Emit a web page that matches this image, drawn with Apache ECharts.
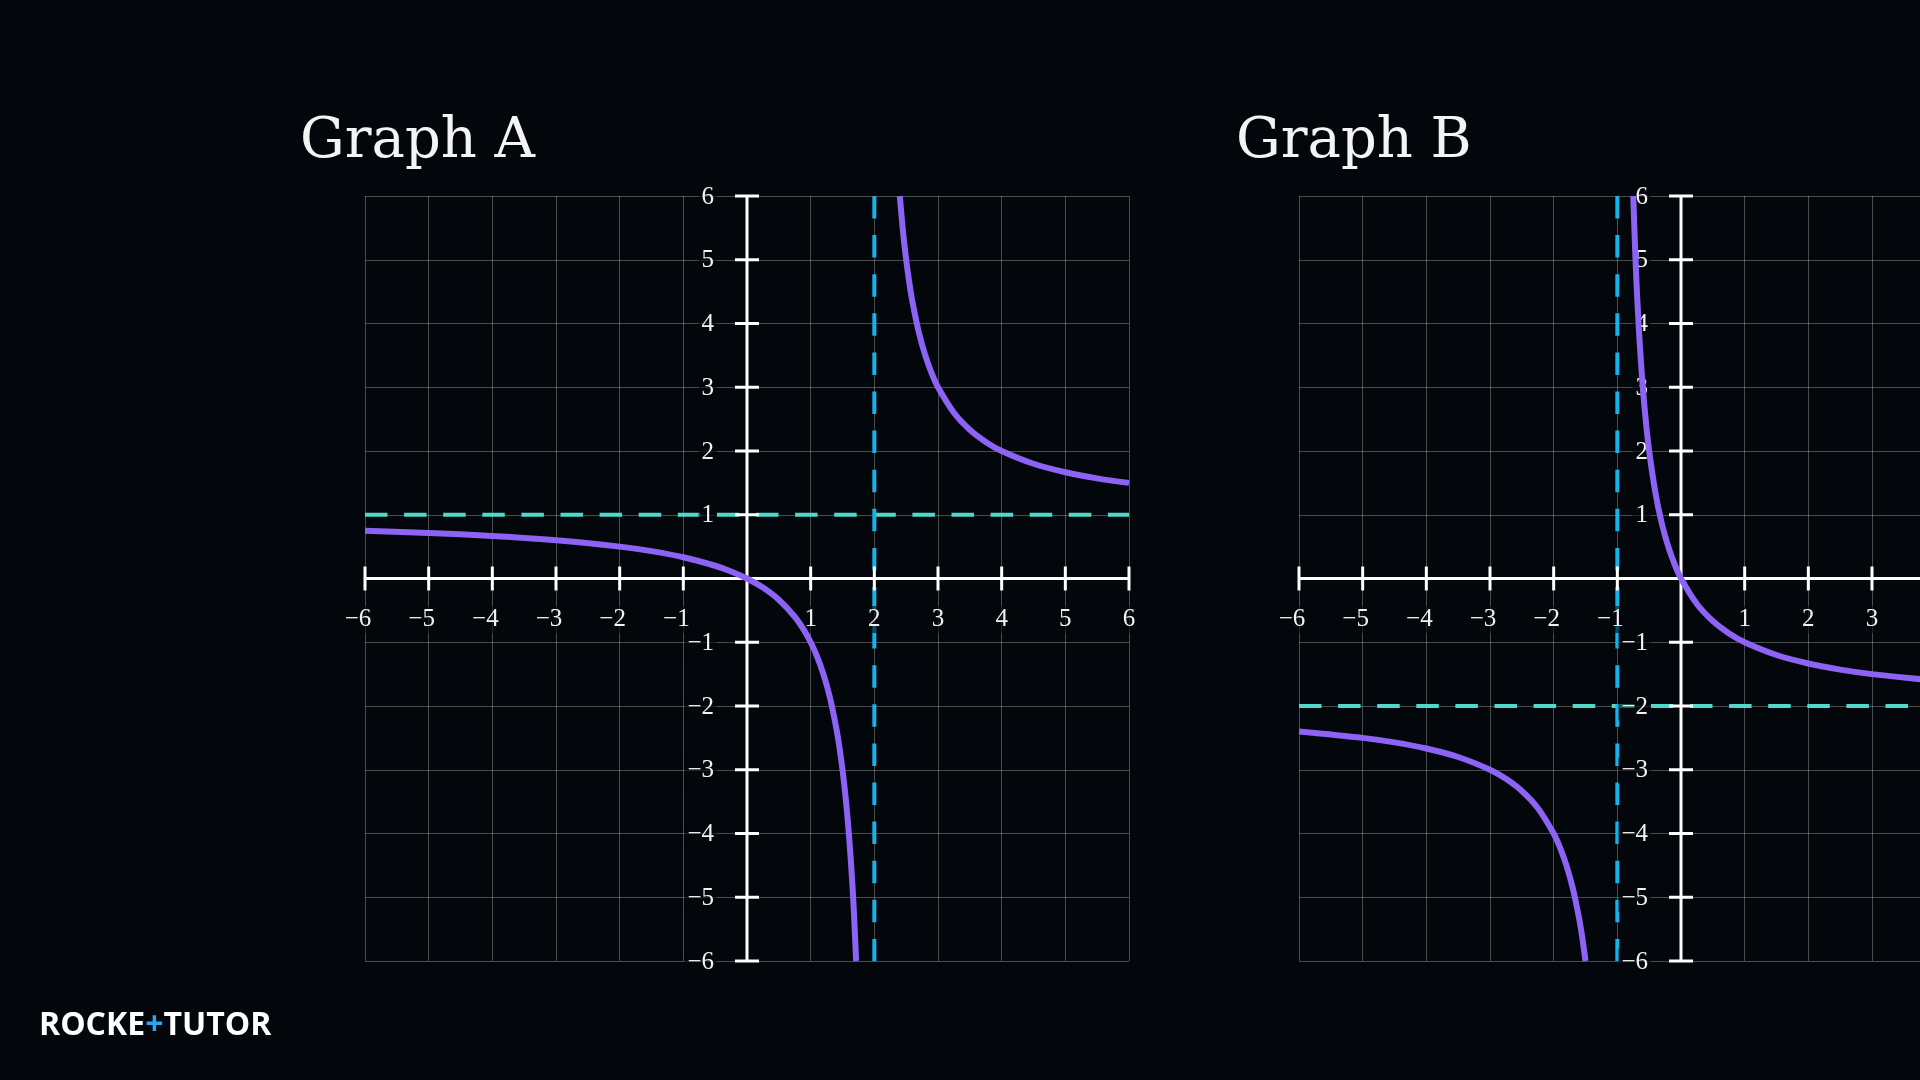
<!DOCTYPE html>
<html>
<head>
<meta charset="utf-8">
<script src="https://cdn.jsdelivr.net/npm/echarts@6/dist/echarts.min.js"></script>
<style>
html,body{margin:0;padding:0;background:#03070b;}
#chart{width:1920px;height:1080px;}
</style>
</head>
<body>
<div id="chart"></div>
<script>
// ---- data ----
const titles = ['Graph A', 'Graph B'];
const ticks = [-6, -5, -4, -3, -2, -1, 0, 1, 2, 3, 4, 5, 6];
const tickLabels = ['−6', '−5', '−4', '−3', '−2', '−1', '', '1', '2', '3', '4', '5', '6'];

// Graph A asymptotes
const asymA_x = 2;
const asymA_y = 1;
// Graph B asymptotes
const asymB_x = -1;
const asymB_y = -2;

// Graph A curve (two branches), [x, y]
const curveA_left = [
  [-6, 0.75], [-5, 0.714], [-4, 0.667], [-3, 0.6], [-2, 0.5], [-1.5, 0.429], [-1, 0.333],
  [-0.5, 0.2], [-0.25, 0.111], [0, 0], [0.25, -0.143], [0.5, -0.333], [0.75, -0.6], [0.9, -0.818], [1, -1],
  [1.1, -1.222], [1.2, -1.5], [1.3, -1.857], [1.4, -2.333], [1.45, -2.636], [1.5, -3], [1.55, -3.444],
  [1.6, -4], [1.65, -4.714], [1.68, -5.25], [1.714, -6]
];
const curveA_right = [
  [2.4, 6], [2.45, 5.444], [2.5, 5], [2.55, 4.636], [2.6, 4.333], [2.7, 3.857], [2.8, 3.5], [2.9, 3.222],
  [3, 3], [3.25, 2.6], [3.5, 2.333], [3.75, 2.143], [4, 2], [4.5, 1.8], [5, 1.667],
  [5.5, 1.571], [6, 1.5]
];
// Graph B curve (two branches), [x, y]
const curveB_left = [
  [-6, -2.4], [-5, -2.5], [-4.5, -2.571], [-4, -2.667], [-3.5, -2.8], [-3, -3], [-2.75, -3.143],
  [-2.5, -3.333], [-2.25, -3.6], [-2, -4], [-1.9, -4.222], [-1.8, -4.5], [-1.7, -4.857],
  [-1.6, -5.333], [-1.55, -5.636], [-1.5, -6]
];
const curveB_right = [
  [-0.75, 6], [-0.72, 5.143], [-0.7, 4.667], [-0.675, 4.154], [-0.65, 3.714], [-0.6, 3], [-0.55, 2.444],
  [-0.5, 2], [-0.4, 1.333], [-0.3, 0.857], [-0.2, 0.5], [-0.1, 0.222], [0, 0], [0.25, -0.4],
  [0.5, -0.667], [0.75, -0.857], [1, -1], [1.5, -1.2], [2, -1.333], [2.5, -1.429], [3, -1.5],
  [4, -1.6], [5, -1.667], [6, -1.714]
];

// ---- styling ----
const BG = '#03070b';
const CURVE = '#8c63f4';
const HDASH = '#4ed9c9';
const VDASH = '#15b3ea';
const GRIDC = 'rgba(255,255,255,0.28)';
const LABEL_FONT = '25px "Liberation Serif", serif';
const DASH = [22.5, 16.6];

const chart = echarts.init(document.getElementById('chart'), null, {renderer: 'canvas'});

const grids = [
  {left: 365, top: 196, width: 764, height: 765, outerBoundsMode: 'none', containLabel: false},
  {left: 1299, top: 196, width: 764, height: 765, outerBoundsMode: 'none', containLabel: false}
];

function axisX(i) {
  return {type: 'value', gridIndex: i, min: -6, max: 6, interval: 1,
    axisLine: {show: false}, axisTick: {show: false}, axisLabel: {show: false},
    splitLine: {show: true, lineStyle: {color: GRIDC, width: 1}}};
}
function axisY(i) { return axisX(i); }

function tickLabelSeries(i, dir) {
  return {
    type: 'custom', xAxisIndex: i, yAxisIndex: i, z: 3, silent: true, clip: false,
    data: ticks.map((t, k) => [t, k]),
    renderItem: function (params, api) {
      const v = api.value(0);
      const k = api.value(1);
      const txt = tickLabels[k];
      if (!txt) return null;
      if (dir === 'x') {
        const p = api.coord([v, 0]);
        return {type: 'text', style: {text: txt, x: p[0] - (v < 0 ? 7 : 0), y: p[1] + 41,
          align: 'center', verticalAlign: 'middle', fill: '#f2f2f2', font: LABEL_FONT,
          backgroundColor: 'rgba(3,7,11,0.6)', padding: [1, 3]}};
      } else {
        const p = api.coord([0, v]);
        return {type: 'text', style: {text: txt, x: p[0] - 30, y: p[1] + 1,
          align: 'right', verticalAlign: 'middle', fill: '#f2f2f2', font: LABEL_FONT,
          backgroundColor: 'rgba(3,7,11,0.6)', padding: [1, 3]}};
      }
    }
  };
}

function tickMarkSeries(i, dir) {
  return {
    type: 'custom', xAxisIndex: i, yAxisIndex: i, z: 5, silent: true, clip: false,
    data: ticks.map(t => [t]),
    renderItem: function (params, api) {
      const v = api.value(0);
      if (v === 0) return null;
      if (dir === 'x') {
        const p = api.coord([v, 0]);
        return {type: 'line', shape: {x1: p[0], y1: p[1] - 12, x2: p[0], y2: p[1] + 12},
          style: {stroke: '#ffffff', lineWidth: 3}};
      } else {
        const p = api.coord([0, v]);
        return {type: 'line', shape: {x1: p[0] - 12, y1: p[1], x2: p[0] + 12, y2: p[1]},
          style: {stroke: '#ffffff', lineWidth: 3}};
      }
    }
  };
}

function lineSeries(i, data, color, width, type, z, smooth) {
  return {type: 'line', xAxisIndex: i, yAxisIndex: i, data: data, symbol: 'none', z: z,
    silent: true, animation: false, clip: true, smooth: smooth ? 0.3 : false,
    lineStyle: {color: color, width: width, type: type, cap: 'butt', join: 'round'}};
}

const series = [];
const asym = [[asymA_x, asymA_y], [asymB_x, asymB_y]];
const curves = [[curveA_left, curveA_right], [curveB_left, curveB_right]];
for (let i = 0; i < 2; i++) {
  const ax = asym[i][0], ay = asym[i][1];
  series.push(lineSeries(i, [[-6, ay], [6, ay]], HDASH, 4, DASH, 2));
  series.push(lineSeries(i, [[ax, 6], [ax, -6]], VDASH, 4, DASH, 2));
  series.push(tickLabelSeries(i, 'x'));
  series.push(tickLabelSeries(i, 'y'));
  series.push(lineSeries(i, [[-6, 0], [6, 0]], '#ffffff', 3, 'solid', 4));
  series.push(lineSeries(i, [[0, -6], [0, 6]], '#ffffff', 3, 'solid', 4));
  series.push(tickMarkSeries(i, 'x'));
  series.push(tickMarkSeries(i, 'y'));
  series.push(lineSeries(i, curves[i][0], CURVE, 6, 'solid', 6, true));
  series.push(lineSeries(i, curves[i][1], CURVE, 6, 'solid', 6, true));
}

const option = {
  backgroundColor: BG,
  animation: false,
  grid: grids,
  xAxis: [axisX(0), axisX(1)],
  yAxis: [axisY(0), axisY(1)],
  series: series,
  graphic: [
    {type: 'text', left: 300, top: 114, style: {text: titles[0], fill: '#f4f4f4',
      font: '56px "DejaVu Serif", serif'}},
    {type: 'text', left: 1236, top: 114, style: {text: titles[1], fill: '#f4f4f4',
      font: '56px "DejaVu Serif", serif'}},
    {type: 'text', left: 39, top: 1010, style: {
      text: '{w|ROCKE}{b|+}{w|TUTOR}',
      rich: {
        w: {fill: '#ffffff', font: 'bold 32px "Open Sans", sans-serif'},
        b: {fill: '#29a8ef', font: 'bold 32px "Open Sans", sans-serif'}
      }}}
  ]
};
chart.setOption(option);
</script>
</body>
</html>
